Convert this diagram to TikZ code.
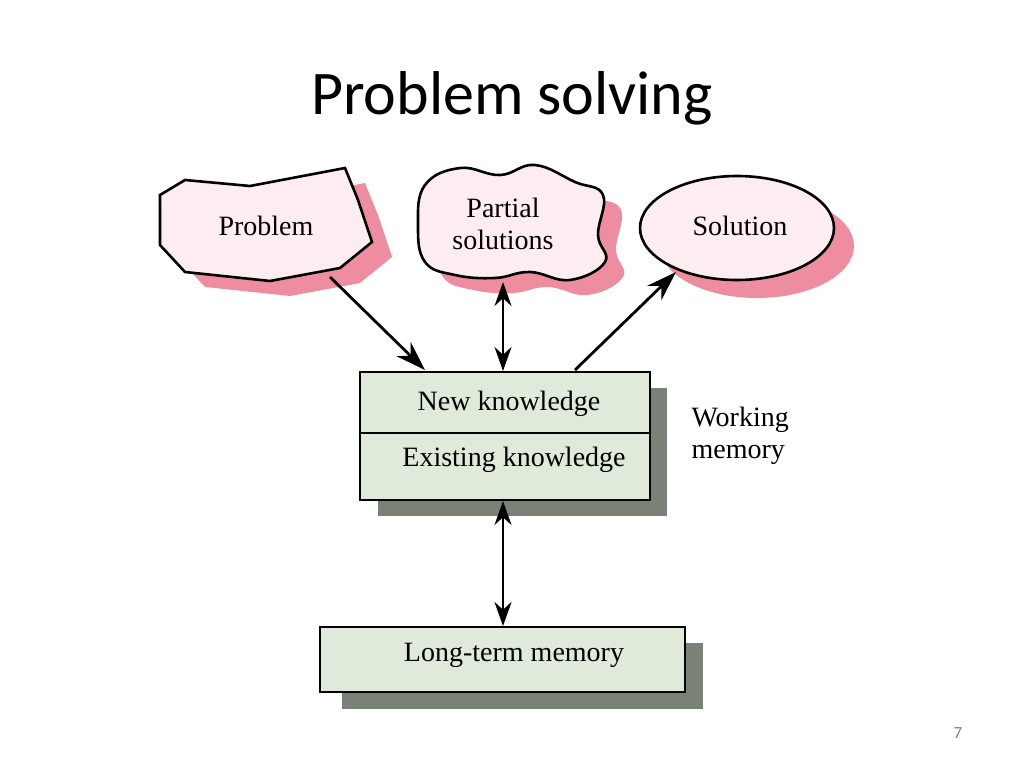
\documentclass[tikz,border=0pt]{standalone}
\usepackage{fontspec}
\setmainfont{Liberation Serif}
\newfontfamily\titlefont{Carlito}
\usetikzlibrary{arrows.meta}
\definecolor{blobfill}{RGB}{253,236,240}
\definecolor{blobshade}{RGB}{238,140,160}
\definecolor{boxfill}{RGB}{224,234,218}
\definecolor{boxshade}{RGB}{122,130,120}
\tikzset{
  blob/.style={draw=black, line width=2.6pt, fill=blobfill},
  memory/.style={draw=black, line width=2.6pt, fill=boxfill},
  flow/.style={line width=2.8pt, -{Stealth[length=30pt,width=20pt]}},
  both/.style={line width=2.8pt, {Stealth[length=24pt,width=17pt]}-{Stealth[length=24pt,width=17pt]}},
  label/.style={font=\fontsize{28}{32}\selectfont, align=center}
}
\begin{document}
\begin{tikzpicture}[x=1pt, y=-1pt]
  \useasboundingbox (0,0) rectangle (1024,768);

  % title
  \node[font=\titlefont\fontsize{62}{66}\selectfont] (title) at (512,98) {Problem solving};

  % === Problem (left) ===
  \begin{scope}[shift={(20,15)}]
    \fill[blobshade] (160,195) -- (185,180) -- (250,186) -- (345,168) -- (358,200) -- (372,242) -- (340,268) -- (270,281) -- (185,272) -- (160,245) -- cycle;
  \end{scope}
  \draw[blob] (160,195) -- (185,180) -- (250,186) -- (345,168) -- (358,200) -- (372,242) -- (340,268) -- (270,281) -- (185,272) -- (160,245) -- cycle;
  \node[label] (problem) at (266,226) {Problem};

  % === Partial solutions (middle) ===
  \begin{scope}[shift={(18,15)}]
    \fill[blobshade] plot[smooth cycle, tension=0.7] coordinates {(425,185) (460,168) (500,175) (535,165) (575,182) (603,195) (598,235) (605,262) (570,280) (530,272) (495,278) (455,275) (425,262) (418,225)};
  \end{scope}
  \draw[blob] plot[smooth cycle, tension=0.7] coordinates {(425,185) (460,168) (500,175) (535,165) (575,182) (603,195) (598,235) (605,262) (570,280) (530,272) (495,278) (455,275) (425,262) (418,225)};
  \node[label] (partial) at (503,224) {Partial\\solutions};

  % === Solution (right) ===
  \fill[blobshade] (757,246) ellipse (97 and 52);
  \draw[blob] (737,228) ellipse (97 and 52);
  \node[label] (solution) at (740,226) {Solution};

  % === Working memory ===
  \fill[boxshade] (378,388) rectangle (667,516);
  \draw[memory] (360,372) rectangle (650,500);
  \draw[line width=2.6pt] (360,433) -- (650,433);
  \node[label] (newk) at (509,404) {New knowledge};
  \node[label] (oldk) at (514,460) {Existing knowledge};
  \node[label, align=left, anchor=west] (wm) at (688,436) {Working\\memory};

  % === Long-term memory ===
  \fill[boxshade] (342,643) rectangle (703,709);
  \draw[memory] (320,627) rectangle (685,692);
  \node[label] (ltm) at (514,655) {Long-term memory};

  % connectors
  \coordinate (pa) at (330,277);
  \coordinate (pb) at (425,370);
  \coordinate (sa) at (575,370);
  \coordinate (sb) at (676,272);
  \draw[flow] (pa) -- (pb);
  \draw[both] (503,282) -- (503,371);
  \draw[flow] (sa) -- (sb);
  \draw[both] (503,501) -- (503,626);

  % page number
  \node[font=\titlefont\fontsize{17}{18}\selectfont, text=gray] (page) at (958,733) {7};
\end{tikzpicture}
\end{document}
